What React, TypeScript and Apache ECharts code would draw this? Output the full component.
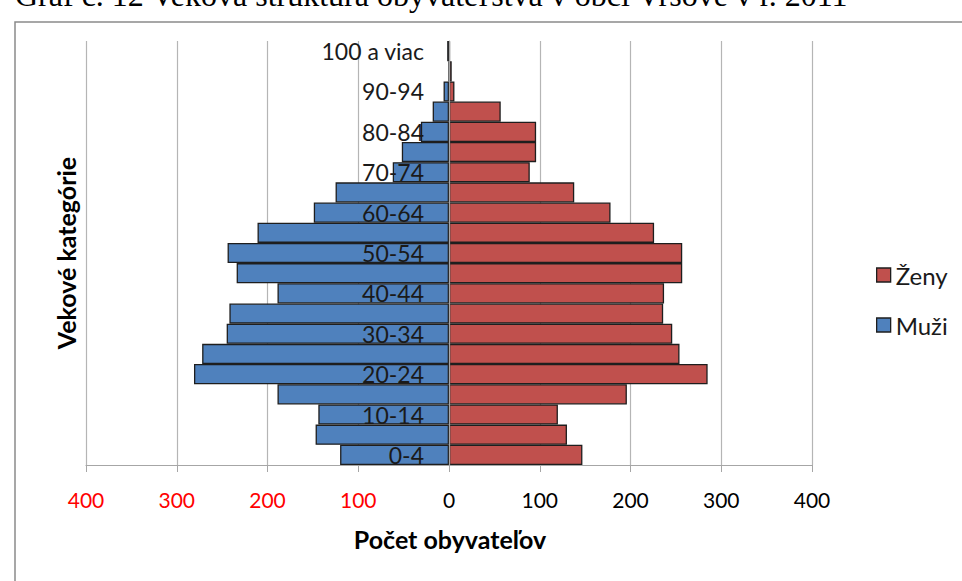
import React, { useEffect, useRef } from "react";
import * as echarts from "echarts";

const categories = ["0-4","5-9","10-14","15-19","20-24","25-29","30-34","35-39","40-44","45-49","50-54","55-59","60-64","65-69","70-74","75-79","80-84","85-89","90-94","95-99","100 a viac"];
const muzi = [120,147,144,189,281,272,245,242,189,234,244,211,149,125,62,52,31,18,6,0,2];
const zeny = [147,130,120,196,285,254,246,236,237,257,257,226,178,138,89,96,96,57,6,3,1];
const xTicks = { min: -400, max: 400, interval: 100 };
const titleText = "Graf č. 12 Veková štruktúra obyvateľstva v obci Vršove v r. 2011";
const xName = "Počet obyvateľov";
const yName = "Vekové kategórie";

const FONT = "Lato, 'Noto Sans', sans-serif";

export default function App() {
  const ref = useRef<HTMLDivElement>(null);
  useEffect(() => {
    if (!ref.current) return;
    const chart = echarts.init(ref.current, null, { renderer: "svg" });
    const border = { borderColor: "#1e1e1e", borderWidth: 1.3 };
    chart.setOption({
      animation: false,
      backgroundColor: "#ffffff",
      grid: { left: 86, right: 150, top: 41, bottom: 116, containLabel: false, outerBoundsMode: "none" },
      legend: {
        orient: "vertical",
        left: 871,
        top: 258,
        padding: 5,
        itemWidth: 14,
        itemHeight: 14,
        itemGap: 26,
        icon: "rect",
        textStyle: { fontFamily: FONT, fontSize: 24, color: "#1a1a1a" },
        data: [
          { name: "Ženy", itemStyle: { color: "#c0504d", ...border } },
          { name: "Muži", itemStyle: { color: "#4f81bd", ...border } },
        ],
      },
      xAxis: {
        type: "value",
        min: xTicks.min,
        max: xTicks.max,
        interval: xTicks.interval,
        axisLine: { show: true, lineStyle: { color: "#a6a6a6", width: 1.2 } },
        axisTick: { show: true, length: 7, lineStyle: { color: "#a6a6a6" } },
        splitLine: { show: true, lineStyle: { color: "#b5b5b5", width: 1.2 } },
        axisLabel: {
          margin: 24,
          fontFamily: FONT,
          fontSize: 21,
          formatter: (v: number) => (v < 0 ? `{r|${-v}}` : `{k|${v}}`),
          rich: {
            r: { color: "#ff0000", fontFamily: FONT, fontSize: 21 },
            k: { color: "#000000", fontFamily: FONT, fontSize: 21 },
          },
        },
      },
      yAxis: {
        type: "category",
        data: categories,
        z: 5,
        position: "left",
        offset: -363,
        axisLine: { show: true, onZero: false, lineStyle: { color: "#a6a6a6", width: 1.2 } },
        axisTick: { show: false },
        splitLine: { show: false },
        axisLabel: {
          interval: 1,
          margin: 25,
          color: "#1a1a1a",
          fontFamily: FONT,
          fontSize: 23,
        },
      },
      series: [
        {
          name: "Muži",
          type: "bar",
          stack: "total",
          barCategoryGap: 0,
          itemStyle: { color: "#4f81bd", ...border },
          data: muzi.map((v) => -v),
        },
        {
          name: "Ženy",
          type: "bar",
          stack: "total",
          barCategoryGap: 0,
          itemStyle: { color: "#c0504d", ...border },
          data: zeny,
        },
      ],
      graphic: [
        {
          type: "rect",
          silent: true,
          shape: { x: 15, y: 22, width: 1200, height: 800 },
          style: { fill: "none", stroke: "#8a8a8a", lineWidth: 1.5 },
        },
        {
          type: "text",
          silent: true,
          x: 15,
          y: -5,
          style: {
            text: titleText,
            font: "32px 'Liberation Serif', serif",
            fill: "#000",
            align: "left",
            verticalAlign: "middle",
          },
        },
        {
          type: "text",
          silent: true,
          x: 450,
          y: 539,
          style: {
            text: xName,
            font: `bold 25px ${FONT}`,
            fill: "#000",
            align: "center",
            verticalAlign: "middle",
          },
        },
        {
          type: "text",
          silent: true,
          x: 66,
          y: 253,
          rotation: Math.PI / 2,
          style: {
            text: yName,
            font: `bold 25px ${FONT}`,
            fill: "#000",
            align: "center",
            verticalAlign: "middle",
          },
        },
      ],
    });
    return () => chart.dispose();
  }, []);
  return (
    <div
      ref={ref}
      style={{ position: "fixed", left: 0, top: 0, width: 962, height: 581, background: "#fff" }}
    />
  );
}
